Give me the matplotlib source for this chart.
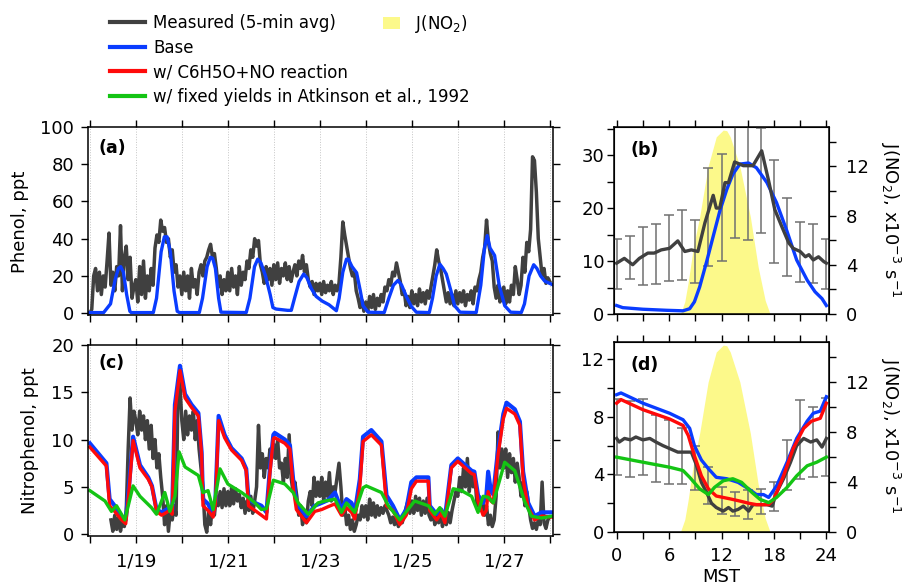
import numpy as np
import matplotlib
matplotlib.use('Agg')
import matplotlib.pyplot as plt
from matplotlib.lines import Line2D
from matplotlib.patches import Patch
from matplotlib.ticker import MultipleLocator

plt.rcParams['font.family'] = ['DejaVu Sans']
plt.rcParams['font.size'] = 13

# ---------------- data ----------------
# measured phenol (ppt), hourly, one row per day starting 1/18 00:00
phenol_meas = [
    [0, 2, 20, 24, 12, 22, 10, 20, 14, 28, 43, 15, 22, 12, 25, 20, 47, 12, 30, 36, 18, 30, 8, 14],
    [18, 6, 25, 10, 28, 8, 20, 12, 24, 15, 35, 42, 38, 50, 44, 46, 38, 40, 30, 34, 22, 26, 14, 20],
    [10, 22, 12, 20, 8, 24, 14, 18, 10, 22, 26, 20, 28, 30, 34, 37, 30, 32, 24, 14, 20, 10, 18, 12],
    [22, 12, 24, 14, 20, 10, 25, 15, 22, 18, 28, 24, 34, 30, 40, 36, 39, 26, 22, 16, 25, 18, 24, 15],
    [26, 18, 27, 16, 24, 20, 27, 18, 25, 17, 22, 26, 20, 28, 24, 31, 22, 26, 18, 14, 17, 10, 16, 12],
    [16, 10, 17, 11, 15, 12, 17, 10, 15, 12, 16, 30, 49, 42, 36, 30, 24, 20, 22, 12, 8, 3, 7, 1],
    [6, 1, 9, 3, 10, 2, 8, 4, 10, 6, 14, 12, 18, 15, 22, 20, 27, 22, 17, 10, 12, 4, 9, 3],
    [12, 5, 10, 4, 13, 6, 11, 5, 12, 8, 14, 20, 26, 34, 28, 24, 18, 12, 6, 11, 5, 10, 4, 12],
    [5, 11, 6, 12, 4, 10, 7, 12, 5, 14, 12, 18, 22, 30, 35, 50, 38, 32, 28, 14, 8, 15, 6, 12],
    [14, 5, 12, 6, 15, 10, 25, 18, 10, 15, 30, 22, 38, 33, 45, 84, 82, 65, 40, 30, 20, 24, 16, 19],
    [17]]

# measured nitrophenol (ppt), hourly, one row per day starting 1/18 00:00
nan = np.nan
nitro_meas = [
    [nan, nan, nan, nan, nan, nan, nan, nan, nan, nan, nan,
     1.5, 0.3, 2, 0.5, 1.8, 0.3, 1.5, 0.8, 2.5, 9, 14.4, 11, 13],
    [12, 10.5, 13, 11, 12.5, 10, 12, 9, 11.5, 8, 10, 7, 8.5, 6, 4, 1, 3, 0.3, 2.5, 1.5, 3, 2, 15, 16],
    [12, 10, 13, 10.5, 12.5, 11, 13, 10, 12, 9, 7, 5, 1, 0.2, 2.5, 1, 3, 2, 4, 3, 4.5, 2.8, 4.8, 3],
    [4.5, 3, 5, 3.2, 4.8, 3.5, 4.2, 2.8, 3.8, 2.2, 3.5, 2.5, 4, 2.2, 3.5, 5, 11.5, 7, 8.5, 6, 8, 7, 9, 8],
    [9.5, 8, 10, 7, 7.5, 5.5, 8, 6, 10.5, 6, 4.5, 5.5, 4, 2, 3, 1, 2.5, 1.2, 3.5, 4.5, 3, 6, 4, 5.5],
    [4, 6, 3.5, 5.5, 4, 6.5, 3.5, 5, 4.5, 6, 7.5, 5, 2, 3, 1, 2, 0.5, 1.5, 0.3, 1, 2, 1.5, 3, 1.8],
    [3, 1.5, 3.7, 2, 3.3, 1.8, 3, 2, 2.8, 2.2, 3, 2.5, 2, 1.2, 1.8, 1, 2, 0.8, 1.5, 1.2, 2, 2.8, 3.5, 2.2],
    [3.5, 2.2, 4, 2.5, 3.8, 2, 3.5, 2.2, 3.8, 2, 1.5, 2.5, 1, 2.2, 1.2, 2.5, 0.8, 2, 1, 2.3, 1.2, 2.5, 3.5, 4.5],
    [4, 6, 4.5, 7, 5, 8, 4.5, 6.5, 5, 6, 3, 4, 2.5, 3.5, 2, 3, 1, 2, 0.8, 1.5, 4, 10.8, 7, 9],
    [7, 9, 6, 8.5, 6.5, 8, 5.5, 7.5, 6, 4, 5.5, 3, 4.5, 3, 1.5, 0.6, 1.2, 0.5, 1.5, 1, 5.5, 1.2, 0.6, 1.5],
    [1.8]]

# modelled phenol, base run: (day since 1/18, ppt)
phenol_base = [
    (0.0, 0.3), (0.3, 0.3), (0.45, 5), (0.55, 18), (0.62, 24), (0.67, 25), (0.73, 22),
    (0.8, 10), (0.87, 1), (0.9, 0.3), (1.38, 0.3), (1.45, 8), (1.55, 33), (1.62, 41),
    (1.68, 41), (1.75, 33), (1.83, 12), (1.9, 1), (1.95, 0.3), (2.38, 0.3), (2.45, 8),
    (2.55, 25), (2.62, 30), (2.67, 29.5), (2.73, 24), (2.8, 8), (2.85, 0.5), (3.4, 0.3),
    (3.48, 8), (3.58, 25), (3.65, 29), (3.72, 27), (3.82, 20), (3.92, 10), (3.98, 3),
    (4.05, 2.2), (4.3, 1.5), (4.38, 1.5), (4.45, 8), (4.55, 17), (4.65, 21), (4.72, 19),
    (4.82, 13), (4.92, 9), (5.05, 6.5), (5.2, 4.5), (5.3, 2.5), (5.36, 1.3), (5.42, 8),
    (5.5, 22), (5.58, 29), (5.62, 29), (5.7, 25), (5.8, 21.7), (5.88, 12), (5.94, 4),
    (6.05, 0.5), (6.4, 0.3), (6.5, 8), (6.6, 15), (6.7, 17.6), (6.78, 15), (6.88, 9),
    (6.99, 3.6), (7.1, 0.5), (7.38, 0.3), (7.45, 8), (7.53, 20), (7.61, 26.3), (7.68, 24),
    (7.75, 21), (7.85, 12), (7.93, 4), (8.05, 0.5), (8.4, 0.3), (8.5, 15), (8.58, 35),
    (8.64, 41.7), (8.7, 35), (8.8, 31), (8.9, 15), (9.02, 4), (9.15, 0.5), (9.38, 0.3),
    (9.45, 5), (9.55, 20), (9.65, 26), (9.72, 24), (9.8, 20), (9.89, 17.2), (10.05, 15.4)]

# modelled nitrophenol: (day, base, w/ C6H5O+NO)
nitro_model = [
    (0.0, 9.6, 9.2), (0.36, 7.5, 7.2), (0.43, 3.7, 3.0), (0.54, 3.0, 2.4), (0.69, 1.9, 1.5),
    (0.78, 1.5, 1.1), (0.85, 5.0, 4.5), (0.94, 10.3, 9.9), (1.09, 7.3, 7.0), (1.27, 6.0, 5.8),
    (1.35, 5.1, 5.0), (1.45, 2.6, 2.4), (1.56, 2.3, 2.0), (1.74, 2.8, 2.5), (1.79, 2.5, 2.1),
    (1.85, 13.7, 13.0), (1.96, 17.8, 17.3), (2.07, 14.8, 14.4), (2.21, 13.7, 13.4),
    (2.36, 12.8, 12.5), (2.43, 8.7, 8.4), (2.46, 3.7, 3.0), (2.57, 3.2, 2.5), (2.68, 2.1, 1.8),
    (2.73, 3.5, 3.2), (2.8, 12.5, 12.0), (2.93, 10.5, 10.2), (3.08, 9.1, 8.9), (3.3, 8.0, 7.8),
    (3.4, 6.9, 6.7), (3.45, 3.7, 3.0), (3.59, 3.3, 2.5), (3.73, 3.0, 2.0), (3.84, 2.3, 1.6),
    (3.91, 6.6, 6.2), (3.99, 10.5, 10.1), (4.02, 10.7, 10.2), (4.24, 10.0, 9.6),
    (4.35, 9.4, 9.0), (4.42, 5.8, 5.0), (4.49, 3.3, 2.6), (4.71, 1.9, 1.2), (4.89, 3.0, 2.4),
    (5.04, 3.3, 2.6), (5.18, 3.6, 2.9), (5.33, 4.4, 3.2), (5.47, 2.6, 2.0), (5.58, 3.7, 2.8),
    (5.69, 3.3, 2.3), (5.76, 2.3, 1.6), (5.87, 5.8, 5.0), (5.94, 10.3, 9.8), (6.12, 11.0, 10.5),
    (6.34, 9.8, 9.4), (6.45, 4.1, 3.0), (6.59, 3.0, 2.5), (6.74, 1.5, 1.0), (6.88, 2.6, 2.0),
    (6.99, 5.5, 4.8), (7.1, 6.0, 5.6), (7.36, 6.0, 5.6), (7.39, 3.0, 2.5), (7.54, 2.1, 1.5),
    (7.64, 2.6, 2.2), (7.72, 1.7, 1.2), (7.86, 7.3, 7.0), (8.0, 8.0, 7.7), (8.3, 6.7, 6.4),
    (8.36, 6.6, 6.3), (8.44, 4.1, 3.5), (8.55, 3.3, 2.0), (8.62, 4.0, 2.5), (8.66, 6.6, 4.5),
    (8.72, 4.5, 3.5), (8.77, 4.2, 3.3), (8.87, 8.7, 8.2), (8.99, 12.7, 12.2),
    (9.06, 13.9, 13.3), (9.24, 13.2, 12.7), (9.35, 11.9, 11.5), (9.42, 6.6, 5.8),
    (9.53, 3.3, 2.8), (9.67, 1.9, 1.5), (9.82, 2.3, 1.9), (10.05, 2.3, 1.8)]

# modelled nitrophenol with fixed yields (Atkinson et al., 1992)
nitro_fixed = [
    (0.0, 4.6), (0.33, 3.5), (0.47, 2.4), (0.58, 3.0), (0.76, 1.5), (0.94, 5.1), (1.09, 4.0),
    (1.34, 2.8), (1.45, 2.1), (1.63, 4.4), (1.74, 2.4), (1.85, 4.0), (1.94, 8.7), (2.07, 7.1),
    (2.36, 6.2), (2.46, 4.4), (2.57, 4.6), (2.68, 2.6), (2.83, 6.9), (3.0, 5.3), (3.3, 4.4),
    (3.44, 3.9), (3.59, 3.3), (3.73, 2.6), (3.84, 2.7), (3.99, 5.7), (4.24, 5.3), (4.42, 4.4),
    (4.53, 3.3), (4.75, 2.1), (4.96, 3.3), (5.11, 3.5), (5.33, 3.7), (5.47, 2.3), (5.58, 3.3),
    (5.76, 2.3), (5.94, 4.9), (6.01, 5.1), (6.34, 4.4), (6.49, 3.0), (6.74, 1.5), (7.06, 3.5),
    (7.36, 3.0), (7.5, 2.1), (7.61, 2.8), (7.72, 1.9), (7.9, 4.8), (8.08, 4.6), (8.3, 4.0),
    (8.44, 2.3), (8.55, 4.0), (8.66, 3.9), (8.77, 3.3), (9.02, 7.6), (9.24, 6.7), (9.45, 3.5),
    (9.6, 1.9), (9.82, 1.7), (10.05, 1.9)]

# diurnal J(NO2), x1e-3 s-1 : (hour, value)
jno2 = [(7.3, 0), (7.8, 1.0), (8.17, 2.5), (8.8, 5.5), (9.5, 7.9), (10.47, 12), (11.4, 14.4),
        (12.2, 14.95), (12.6, 14.9), (13.0, 14.4), (14.1, 12), (15.3, 7.9), (16.2, 3.8),
        (17.0, 1.1), (17.56, 0)]

# diurnal phenol
phenol_diel_meas = [
    (0, 9.6), (0.88, 10.5), (1.84, 9.3), (2.6, 10.5), (3.57, 11.5), (4.3, 11.5), (5.1, 12.1),
    (6.06, 12.4), (7.0, 13.8), (7.8, 11.8), (8.55, 12.1), (9.3, 11.8), (10.1, 17.2),
    (11.05, 22.4), (11.4, 20), (11.8, 20), (12.4, 24.8), (12.8, 24.8), (13.5, 28.7),
    (14.5, 28), (15.6, 28), (16.6, 30.8), (17.4, 25.1), (18.1, 19.7), (18.9, 16.5),
    (19.7, 13.4), (20.2, 12.4), (21.0, 11.8), (21.6, 10.8), (22.0, 11.2), (22.5, 10.2),
    (23.1, 10.8), (23.7, 9.9), (24, 9.6)]
phenol_diel_err = [  # hour, low, high
    (0, 4.8, 14.1), (1.5, 6.6, 14.8), (3, 5.5, 16.4), (4.5, 5.6, 16.9), (6, 6.3, 18.6),
    (7.5, 6.5, 19.6), (9, 5.9, 17.7), (10.5, 9.1, 27.5), (12, 10, 30.2), (13.5, 14.3, 42),
    (15, 13.9, 40.5), (16.5, 15.3, 35.1), (18, 9.7, 29), (19.5, 7.2, 21.9), (21, 6, 17.4),
    (22.5, 5.8, 17), (24, 4.8, 14.2)]
phenol_diel_base = [
    (0, 1.6), (0.7, 1.2), (3, 0.9), (5.7, 0.7), (7.6, 0.6), (8.36, 1.0), (8.9, 2.3),
    (9.5, 5.1), (10.3, 9.9), (11.04, 14.6), (11.8, 19.4), (12.6, 23.5), (13.3, 26.4),
    (14.1, 28.3), (15.1, 28.5), (16.0, 27.6), (17.2, 24.8), (18.3, 21), (19.5, 15.6),
    (20.6, 10.2), (21.8, 6.4), (22.7, 4.2), (23.5, 2.9), (24, 1.6)]

# diurnal nitrophenol
nitro_diel_meas = [
    (0, 6.5), (0.3, 6.25), (0.9, 6.5), (1.6, 6.4), (2.2, 6.6), (3, 6.4), (3.8, 6.5),
    (4.5, 6.25), (5.3, 6.0), (6.06, 5.8), (7.0, 5.55), (7.8, 5.55), (8.55, 5.55), (9.1, 4.7),
    (9.7, 3.45), (10.3, 2.74), (10.85, 2.0), (11.4, 1.7), (12.2, 1.45), (12.8, 1.7),
    (13.3, 1.45), (13.9, 1.57), (14.5, 1.8), (15.1, 1.45), (15.6, 1.9), (16.4, 1.9),
    (17.2, 1.9), (17.8, 1.8), (18.3, 2.74), (19.1, 3.7), (19.9, 4.85), (20.6, 6.0),
    (21.4, 6.5), (22.2, 6.25), (22.9, 6.4), (23.5, 5.9), (24, 6.5)]
nitro_diel_err = [
    (0, 3.93, 9.26), (1.5, 3.8, 9.07), (3, 3.93, 9.26), (4.5, 3.46, 8.14), (6, 3.35, 7.8),
    (7.5, 3.35, 7.2), (9, 2.9, 6.0), (10.5, 1.94, 4.5), (12, 1.24, 3.1), (13.5, 1.12, 2.76),
    (15, 0.89, 2.9), (16.5, 1.24, 3.0), (18, 1.47, 3.46), (19.5, 2.9, 6.4), (21, 3.7, 9.2),
    (22.5, 3.8, 8.7), (24, 3.9, 9.3)]
nitro_diel_base = [
    (0, 9.54), (0.5, 9.66), (3, 8.95), (6.06, 8.25), (7.6, 7.8), (8.36, 7.2), (8.9, 6.0),
    (9.7, 5.0), (10.5, 4.4), (11.4, 3.8), (12.6, 3.7), (13.9, 3.45), (15.1, 3.0), (16.0, 2.6),
    (16.8, 2.6), (17.4, 2.4), (18.3, 3.2), (19.5, 4.85), (20.6, 6.5), (21.8, 7.7),
    (22.5, 8.25), (23.3, 8.4), (24, 9.4)]
nitro_diel_no = [
    (0, 8.95), (0.5, 9.2), (3, 8.5), (6.06, 7.85), (7.6, 7.4), (8.2, 6.7), (8.9, 5.3),
    (9.7, 3.9), (10.5, 3.0), (11.4, 2.5), (13.0, 2.3), (14.1, 2.15), (15.1, 2.0), (16.0, 1.9),
    (17.4, 1.9), (18.0, 2.3), (19.1, 3.9), (20.2, 5.8), (21.4, 7.2), (22.3, 7.7),
    (23.3, 7.9), (24, 8.95)]
nitro_diel_fixed = [
    (0, 5.2), (3, 4.85), (6.06, 4.5), (7.6, 4.27), (8.36, 3.8), (9.5, 3.0), (10.5, 2.6),
    (11.2, 3.1), (12.2, 3.56), (13.3, 3.7), (14.3, 3.45), (15.5, 2.74), (16.4, 2.27),
    (17.4, 2.04), (18.3, 2.4), (19.5, 3.1), (20.6, 3.9), (21.8, 4.6), (22.9, 4.85), (24, 5.2)]

days = list(range(0, 11))
day_labels = ['1/%d' % (18 + d) if d % 2 == 1 else '' for d in days]

# ---------------- style ----------------
C_MEAS = '#404040'
C_BASE = '#0a3cff'
C_NO = '#ff0a0a'
C_FIX = '#14c414'
C_J = '#fcf98a'
C_ERR = '#707070'
LW = 2.4

fig = plt.figure(figsize=(9.07, 5.87), dpi=100)
W, H = 907.0, 587.0
ax_a = fig.add_axes([88 / W, 1 - 315 / H, 465 / W, 188 / H])
ax_c = fig.add_axes([88 / W, 1 - 536 / H, 465 / W, 191 / H])
ax_b = fig.add_axes([614 / W, 1 - 314 / H, 215 / W, 187 / H])
ax_d = fig.add_axes([614 / W, 1 - 532 / H, 215 / W, 190 / H])


def xy(pairs, col=1):
    return [p[0] for p in pairs], [p[col] for p in pairs]


def hourly(rows):
    vals = np.concatenate([np.asarray(r, dtype=float) for r in rows])
    return np.arange(len(vals)) / 24.0, vals


# ---- time series panels ----
ax_a.plot(*hourly(phenol_meas), color=C_MEAS, lw=2.5)
ax_a.plot(*xy(phenol_base), color=C_BASE, lw=LW)
ax_a.set_ylim(-1, 100)
ax_a.yaxis.set_major_locator(MultipleLocator(20))

ax_c.plot(*hourly(nitro_meas), color=C_MEAS, lw=2.5)
ax_c.plot(*xy(nitro_model, 1), color=C_BASE, lw=LW + 0.6)
ax_c.plot(*xy(nitro_model, 2), color=C_NO, lw=LW)
ax_c.plot(*xy(nitro_fixed), color=C_FIX, lw=LW)
ax_c.set_ylim(-0.2, 20)
ax_c.yaxis.set_major_locator(MultipleLocator(5))

for ax in (ax_a, ax_c):
    ax.set_xlim(-0.04, 10.07)
    ax.set_xticks(days)
    ax.grid(axis='x', ls=':', color='#c4c4c4', lw=0.7)
    ax.tick_params(direction='out', length=5, width=1, top=True, right=True,
                   labeltop=False, labelright=False, pad=5)
ax_a.set_xticklabels([])
ax_c.set_xticklabels(day_labels)
ax_c.tick_params(axis='x', pad=7)


# ---- diurnal panels ----
def diel_axes(ax, ymax_left, left_major, left_minor):
    tw = ax.twinx()
    tw.fill_between(*xy(jno2), color=C_J, lw=0)
    tw.set_ylim(0, 15.2)
    tw.yaxis.set_major_locator(MultipleLocator(4))
    tw.yaxis.set_minor_locator(MultipleLocator(2))
    tw.tick_params(which='both', direction='out', width=1, length=5, pad=7)
    ax.set_zorder(tw.get_zorder() + 1)
    ax.patch.set_visible(False)
    ax.set_xlim(-0.3, 24.3)
    ax.set_ylim(0, ymax_left)
    ax.xaxis.set_major_locator(MultipleLocator(6))
    ax.xaxis.set_minor_locator(MultipleLocator(3))
    ax.yaxis.set_major_locator(MultipleLocator(left_major))
    ax.yaxis.set_minor_locator(MultipleLocator(left_minor))
    ax.tick_params(which='both', direction='out', width=1, top=True, pad=2, length=5)
    ax.tick_params(axis='x', pad=6)
    return tw


def errbars(ax, rows):
    h = [r[0] for r in rows]
    lo = np.array([r[1] for r in rows])
    hi = np.array([r[2] for r in rows])
    ax.errorbar(h, (lo + hi) / 2, yerr=(hi - lo) / 2, fmt='none', ecolor=C_ERR,
                elinewidth=1.1, capsize=3.5, capthick=1.1)


diel_axes(ax_b, 35.3, 10, 5)
errbars(ax_b, phenol_diel_err)
ax_b.plot(*xy(phenol_diel_base), color=C_BASE, lw=LW)
ax_b.plot(*xy(phenol_diel_meas), color=C_MEAS, lw=LW)
ax_b.set_xticklabels([])

diel_axes(ax_d, 13.2, 4, 2)
errbars(ax_d, nitro_diel_err)
ax_d.plot(*xy(nitro_diel_meas), color=C_MEAS, lw=LW)
ax_d.plot(*xy(nitro_diel_base), color=C_BASE, lw=LW)
ax_d.plot(*xy(nitro_diel_no), color=C_NO, lw=LW)
ax_d.plot(*xy(nitro_diel_fixed), color=C_FIX, lw=LW)
ax_d.set_xlabel('MST', labelpad=2)

for ax in (ax_a, ax_b, ax_c, ax_d):
    for s in ax.spines.values():
        s.set_linewidth(1.1)

# panel letters
for ax, lab, px, py in ((ax_a, '(a)', 0.022, 0.89), (ax_b, '(b)', 0.075, 0.875),
                        (ax_c, '(c)', 0.022, 0.905), (ax_d, '(d)', 0.075, 0.88)):
    ax.text(px, py, lab, transform=ax.transAxes, fontweight='bold', va='center', fontsize=12.5)

# axis labels
fig.text(20 / W, 1 - 222 / H, 'Phenol, ppt', rotation=90, ha='center', va='center')
fig.text(30 / W, 1 - 441 / H, 'Nitrophenol, ppt', rotation=90, ha='center', va='center')
jlab = r'J(NO$_2$), x10$^{-3}$ s$^{-1}$'
fig.text(890 / W, 1 - 220 / H, jlab, rotation=270, ha='center', va='center')
fig.text(890 / W, 1 - 436 / H, jlab, rotation=270, ha='center', va='center')

# legends
handles = [Line2D([], [], color=c, lw=3) for c in (C_MEAS, C_BASE, C_NO, C_FIX)]
labels = ['Measured (5-min avg)', 'Base', 'w/ C6H5O+NO reaction',
          'w/ fixed yields in Atkinson et al., 1992']
fig.legend(handles, labels, loc='upper left', bbox_to_anchor=(110 / W, 1 - 14 / H),
           frameon=False, handlelength=2.1, handletextpad=0.5, labelspacing=0.4,
           borderpad=0, borderaxespad=0, fontsize=12)
fig.legend([Patch(facecolor=C_J, edgecolor='none')], ['J(NO$_2$)'], loc='upper left',
           bbox_to_anchor=(383 / W, 1 - 13 / H), frameon=False, handlelength=1.0,
           handleheight=0.75, handletextpad=0.9, borderpad=0, borderaxespad=0, fontsize=12)

fig.savefig('out.png', dpi=100)
